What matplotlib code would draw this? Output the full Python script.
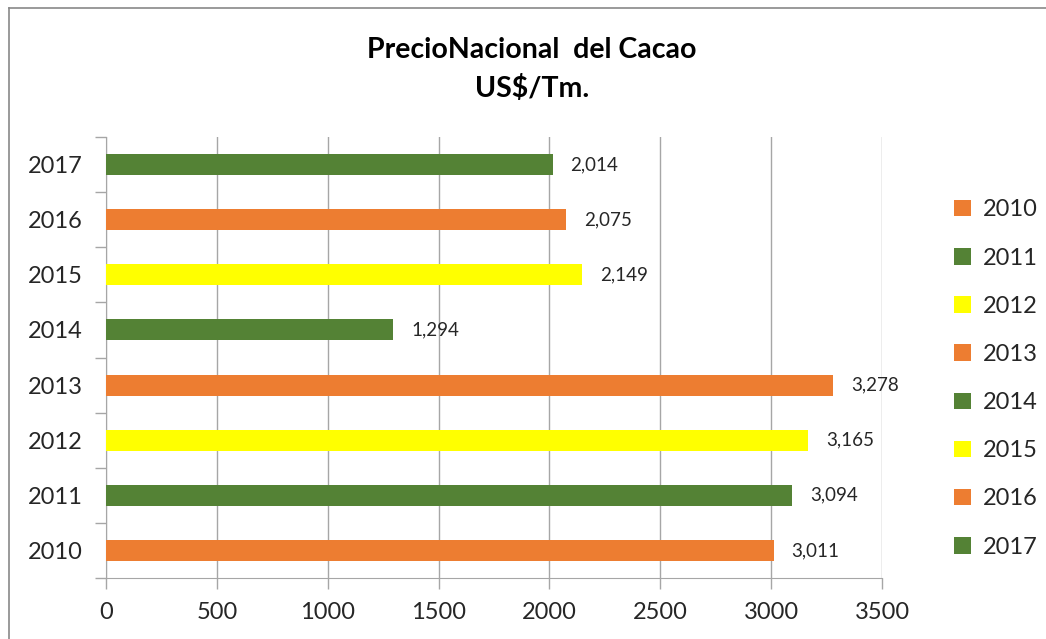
import matplotlib
matplotlib.use("Agg")
import matplotlib.pyplot as plt
from matplotlib.patches import Patch
from matplotlib.lines import Line2D

plt.rcParams['font.family'] = ['Lato', 'DejaVu Sans']

years = ['2010', '2011', '2012', '2013', '2014', '2015', '2016', '2017']
prices = [3011, 3094, 3165, 3278, 1294, 2149, 2075, 2014]
labels = ['3,011', '3,094', '3,165', '3,278', '1,294', '2,149', '2,075', '2,014']
ORANGE, GREEN, YELLOW = '#ED7D31', '#548235', '#FFFF00'
colors = [ORANGE, GREEN, YELLOW, ORANGE, GREEN, YELLOW, ORANGE, GREEN]
xticks = [0, 500, 1000, 1500, 2000, 2500, 3000, 3500]

W, H = 1046, 639
fig = plt.figure(figsize=(W / 100, H / 100), dpi=100)
ax = fig.add_axes([106 / W, 1 - 578 / H, (882 - 106) / W, (578 - 137) / H])

pos = list(range(len(years)))
ax.barh(pos, prices, height=0.38, color=colors, edgecolor='none', zorder=3)
for p, v, t in zip(pos, prices, labels):
    ax.annotate(t, (v, p), xytext=(13, 0), textcoords='offset points',
                va='center', ha='left', fontsize=13.5, color='#262626')

ax.set_xlim(0, 3500)
ax.set_ylim(-0.5, len(years) - 0.5)
ax.set_xticks(xticks)
ax.set_xticklabels([str(x) for x in xticks], fontsize=17, color='#262626')
ax.set_yticks(pos)
ax.set_yticklabels(years, fontsize=17, color='#262626')
ax.set_yticks([p - 0.5 for p in pos] + [len(years) - 0.5], minor=True)
ax.tick_params(axis='y', which='major', length=0, pad=17)
ax.tick_params(axis='y', which='minor', length=8, color='#A6A6A6', width=1)
ax.tick_params(axis='x', which='major', length=8, color='#A6A6A6', width=1, pad=9)
ax.grid(axis='x', color='#A6A6A6', linewidth=1, zorder=0)
for s in ['top', 'right']:
    ax.spines[s].set_visible(False)
for s in ['left', 'bottom']:
    ax.spines[s].set_color('#A6A6A6')

fig.text(532 / W, 1 - 50 / H, 'PrecioNacional  del Cacao', ha='center', va='center',
         fontsize=20.5, fontweight='bold', color='black')
fig.text(532 / W, 1 - 88 / H, 'US$/Tm.', ha='center', va='center',
         fontsize=20.5, fontweight='bold', color='black')

handles = [Patch(facecolor=c, edgecolor='none') for c in colors]
leg = fig.legend(handles, years, loc='upper left', bbox_to_anchor=(945 / W, 1 - 190 / H),
                 frameon=False, fontsize=17, handlelength=0.7, handleheight=0.7,
                 handletextpad=0.5, labelspacing=1.15, borderaxespad=0)
for t in leg.get_texts():
    t.set_color('#262626')

fig.add_artist(Line2D([9 / W, 9 / W], [0, 1 - 8 / H], transform=fig.transFigure,
                      color='#898989', linewidth=1.2))
fig.add_artist(Line2D([9 / W, 1], [1 - 8 / H, 1 - 8 / H], transform=fig.transFigure,
                      color='#898989', linewidth=1.2))

fig.savefig('out.png', dpi=100)
